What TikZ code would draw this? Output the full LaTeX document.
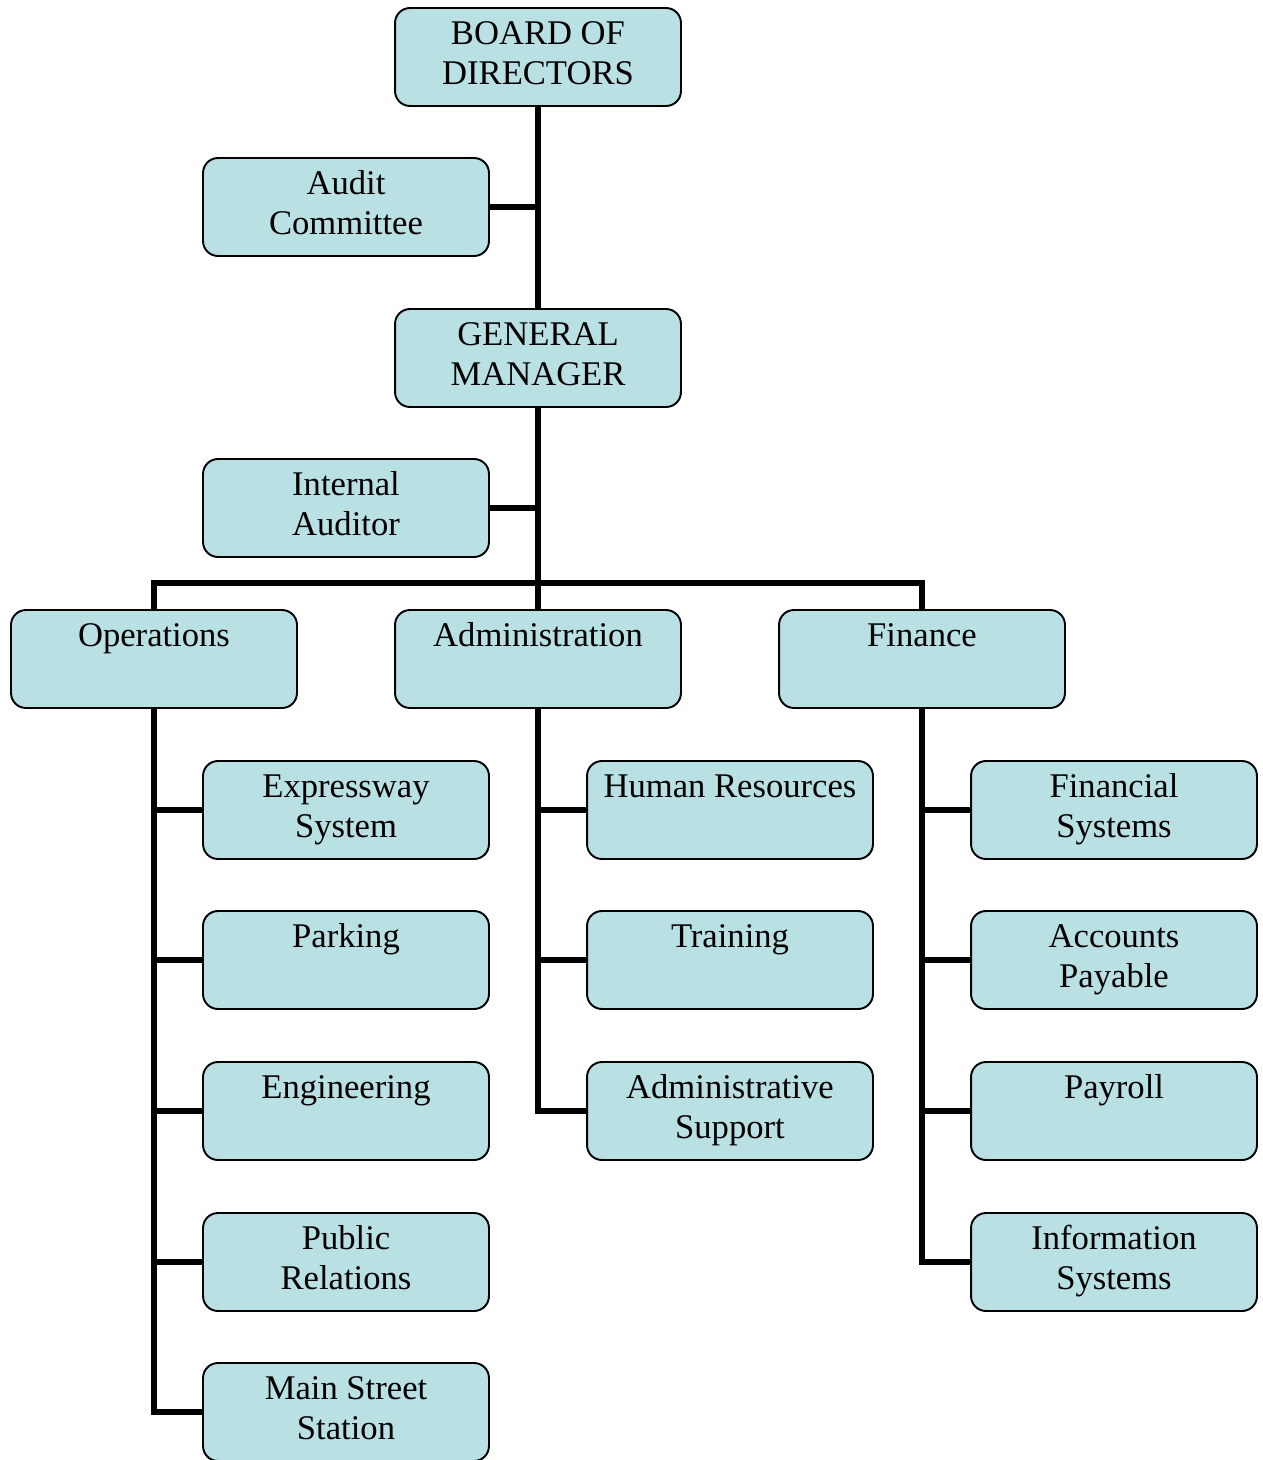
\documentclass[tikz,border=0pt]{standalone}
\usepackage{fontspec}
\setmainfont{Liberation Serif}
\definecolor{boxfill}{RGB}{185,224,226}
\tikzset{
	unit/.style={draw=black, line width=1.1pt, fill=boxfill, rounded corners=8.5pt, minimum width=5.72cm, minimum height=1.96cm, align=center, inner sep=0pt, text height=36pt, text depth=4.8pt, font=\fontsize{19.7}{22.7}\selectfont},
	link/.style={line width=3pt}
}
\begin{document}
\begin{tikzpicture}[x=0.02cm, y=-0.02cm]
			%%%%% START %%%%%
			
			\useasboundingbox (0, 0) rectangle (1262, 1460);
			
			\node[unit] (board) at (538, 57) {BOARD OF\\DIRECTORS};
			\node[unit] (audit) at (346, 207) {Audit\\Committee};
			\node[unit] (gm) at (538, 358) {GENERAL\\MANAGER};
			\node[unit] (intaud) at (346, 508) {Internal\\Auditor};
			
			\node[unit] (ops) at (154, 659) {Operations\\\strut};
			\node[unit] (adm) at (538, 659) {Administration\\\strut};
			\node[unit] (fin) at (922, 659) {Finance\\\strut};
			\coordinate (bus) at (538, 583);
			
			\node[unit] (expr) at (346, 810) {Expressway\\System};
			\node[unit] (park) at (346, 960) {Parking\\\strut};
			\node[unit] (eng) at (346, 1111) {Engineering\\\strut};
			\node[unit] (pubrel) at (346, 1262) {Public\\Relations};
			\node[unit] (mainst) at (346, 1412) {Main Street\\Station};
			
			\node[unit] (hr) at (730, 810) {Human Resources\\\strut};
			\node[unit] (train) at (730, 960) {Training\\\strut};
			\node[unit] (admsup) at (730, 1111) {Administrative\\Support};
			
			\node[unit] (finsys) at (1114, 810) {Financial\\Systems};
			\node[unit] (acpay) at (1114, 960) {Accounts\\Payable};
			\node[unit] (payroll) at (1114, 1111) {Payroll\\\strut};
			\node[unit] (infosys) at (1114, 1262) {Information\\Systems};
			
			\draw[link] (board.south) -- (gm.north);
			\draw[link] (audit.east) -- (audit.east -| board.south);
			\draw[link] (gm.south) -- (adm.north);
			\draw[link] (intaud.east) -- (intaud.east -| gm.south);
			\draw[link] (ops.north) |- (bus) -| (fin.north);
			
			\draw[link] (ops.south) |- (expr.west);
			\draw[link] (ops.south) |- (park.west);
			\draw[link] (ops.south) |- (eng.west);
			\draw[link] (ops.south) |- (pubrel.west);
			\draw[link] (ops.south) |- (mainst.west);
			
			\draw[link] (adm.south) |- (hr.west);
			\draw[link] (adm.south) |- (train.west);
			\draw[link] (adm.south) |- (admsup.west);
			
			\draw[link] (fin.south) |- (finsys.west);
			\draw[link] (fin.south) |- (acpay.west);
			\draw[link] (fin.south) |- (payroll.west);
			\draw[link] (fin.south) |- (infosys.west);
			
			%%%%% END %%%%%
\end{tikzpicture}
\end{document}
